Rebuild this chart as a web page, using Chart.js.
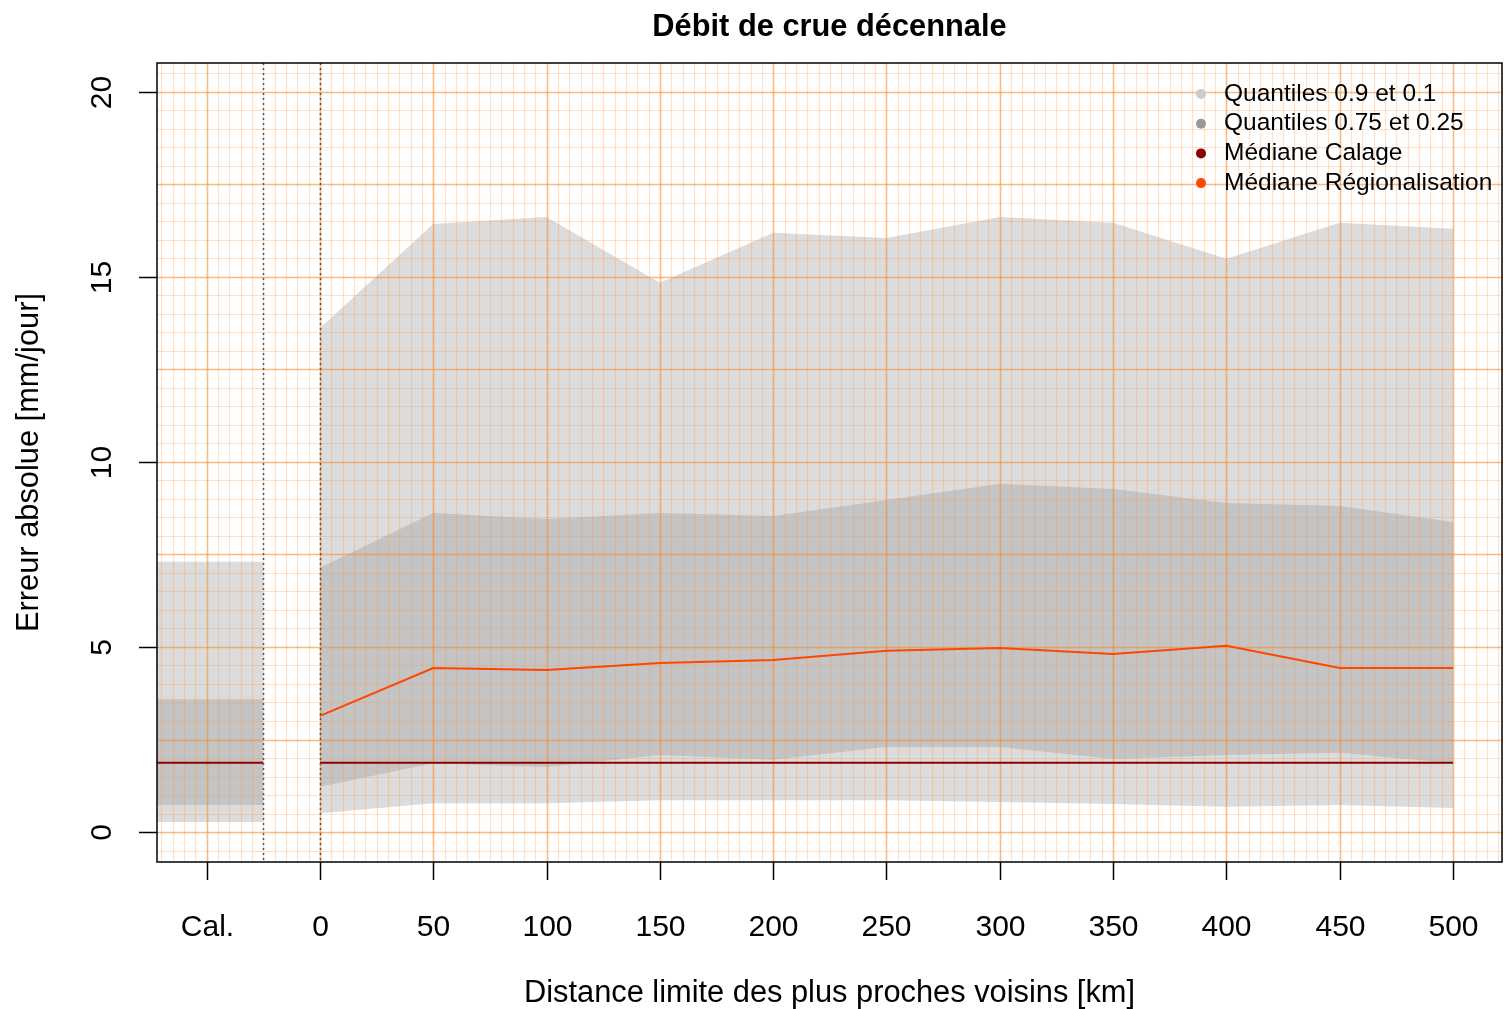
<!DOCTYPE html>
<html>
<head>
<meta charset="utf-8">
<title>Débit de crue décennale</title>
<script src="https://cdn.jsdelivr.net/npm/chart.js@4"></script>
<style>
	body { margin: 0; background: #fff; }
	#wrap { width: 1506px; height: 1009px; }
</style>
</head>
<body>
<div id="wrap"><canvas id="chart-crue" width="1506" height="1009"></canvas></div>
<script>
// Data
const distances = [0, 50, 100, 150, 200, 250, 300, 350, 400, 450, 500];
const regQ90 = [13.62, 16.43, 16.62, 14.84, 16.19, 16.05, 16.62, 16.46, 15.49, 16.46, 16.3];
const regQ75 = [7.14, 8.62, 8.46, 8.62, 8.54, 8.97, 9.41, 9.27, 8.89, 8.81, 8.38];
const regMedian = [3.14, 4.43, 4.38, 4.57, 4.65, 4.9, 4.97, 4.81, 5.03, 4.43, 4.43];
const regQ25 = [1.22, 1.86, 1.76, 2.08, 1.95, 2.3, 2.3, 1.97, 2.08, 2.14, 1.86];
const regQ10 = [0.51, 0.78, 0.78, 0.86, 0.86, 0.86, 0.81, 0.76, 0.68, 0.73, 0.65];

// calibration block (drawn left of the dotted line)
const calSpan = [-80, -25];
const calQ90 = 7.3;
const calQ75 = 3.59;
const calMedian = 1.87;
const calQ25 = 0.73;
const calQ10 = 0.27;

const xTicks = [-50, 0, 50, 100, 150, 200, 250, 300, 350, 400, 450, 500];
const xTickLabels = ['Cal.', '0', '50', '100', '150', '200', '250', '300', '350', '400', '450', '500'];
const yTicks = [0, 5, 10, 15, 20];
const legendLabels = ['Quantiles 0.9 et 0.1', 'Quantiles 0.75 et 0.25', 'Médiane Calage', 'Médiane Régionalisation'];
const legendColors = ['#cccccc', '#999999', '#8b0000', '#ff4500'];

const FONT = '"Liberation Sans", Arial, sans-serif';

const pts = (ys) => distances.map((d, i) => ({ x: d, y: ys[i] }));
const calPts = (v) => calSpan.map((d) => ({ x: d, y: v }));

function band(data, color, fill) {
	return {
		data: data,
		borderWidth: 0,
		pointRadius: 0,
		backgroundColor: color,
		fill: fill ? '+1' : false,
	};
}

// orange millimetre-paper grid, drawn over the bands but under the medians
const paperGrid = {
	id: 'paperGrid',
	beforeDatasetsDraw(chart) {
		const { ctx, chartArea: a, scales: { x, y } } = chart;
		ctx.save();
		ctx.beginPath();
		ctx.rect(a.left, a.top, a.right - a.left, a.bottom - a.top);
		ctx.clip();
		const vline = (v) => {
			const px = Math.round(x.getPixelForValue(v)) + 0.5;
			ctx.beginPath();
			ctx.moveTo(px, a.top);
			ctx.lineTo(px, a.bottom);
			ctx.stroke();
		};
		const hline = (v) => {
			const py = Math.round(y.getPixelForValue(v)) + 0.5;
			ctx.beginPath();
			ctx.moveTo(a.left, py);
			ctx.lineTo(a.right, py);
			ctx.stroke();
		};
		ctx.lineWidth = 1.2;
		ctx.strokeStyle = 'rgba(250, 145, 60, 0.27)';
		for (let v = -70; v <= 520; v += 5) if (v % 50 !== 0) vline(v);
		for (let k = -1; k <= 41; k++) if (k % 5 !== 0) hline(k * 0.5);
		ctx.lineWidth = 1.6;
		ctx.strokeStyle = 'rgba(247, 140, 45, 0.6)';
		for (let v = -50; v <= 500; v += 50) vline(v);
		for (let k = 0; k <= 8; k++) hline(k * 2.5);
		ctx.restore();
	},
};

// frame, separators, ticks, titles and legend
const frame = {
	id: 'frame',
	afterDatasetsDraw(chart) {
		const { ctx, chartArea: a, scales: { x, y } } = chart;
		ctx.save();

		// dotted separators
		ctx.strokeStyle = '#555';
		ctx.lineWidth = 1.5;
		ctx.setLineDash([2, 3]);
		[-25, 0].forEach((v) => {
			const px = Math.round(x.getPixelForValue(v)) + 0.5;
			ctx.beginPath();
			ctx.moveTo(px, a.top);
			ctx.lineTo(px, a.bottom);
			ctx.stroke();
		});
		ctx.setLineDash([]);

		// box
		ctx.strokeStyle = '#000';
		ctx.lineWidth = 1.5;
		ctx.strokeRect(a.left, a.top, a.right - a.left, a.bottom - a.top);

		ctx.fillStyle = '#000';
		ctx.font = '30px ' + FONT;
		ctx.textAlign = 'center';
		ctx.textBaseline = 'middle';

		// x ticks
		xTicks.forEach((v, i) => {
			const px = Math.round(x.getPixelForValue(v)) + 0.5;
			ctx.beginPath();
			ctx.moveTo(px, a.bottom);
			ctx.lineTo(px, a.bottom + 18);
			ctx.stroke();
			ctx.fillText(xTickLabels[i], px, a.bottom + 66);
		});

		// y ticks, labels turned like the axis title
		yTicks.forEach((v) => {
			const py = Math.round(y.getPixelForValue(v)) + 0.5;
			ctx.beginPath();
			ctx.moveTo(a.left, py);
			ctx.lineTo(a.left - 18, py);
			ctx.stroke();
			ctx.save();
			ctx.translate(a.left - 54, py);
			ctx.rotate(-Math.PI / 2);
			ctx.fillText(String(v), 0, 0);
			ctx.restore();
		});

		// titles
		const cx = (a.left + a.right) / 2;
		ctx.font = 'bold 30.8px ' + FONT;
		ctx.fillText('Débit de crue décennale', cx, 28);
		ctx.font = '30.8px ' + FONT;
		ctx.fillText('Distance limite des plus proches voisins [km]', cx, 994);
		ctx.save();
		ctx.translate(30, (a.top + a.bottom) / 2);
		ctx.rotate(-Math.PI / 2);
		ctx.fillText('Erreur absolue [mm/jour]', 0, 0);
		ctx.restore();

		// legend
		ctx.font = '24.5px ' + FONT;
		ctx.textAlign = 'left';
		legendLabels.forEach((label, i) => {
			const ly = 94 + i * 29.7;
			ctx.fillStyle = legendColors[i];
			ctx.beginPath();
			ctx.arc(1201, ly, 5, 0, Math.PI * 2);
			ctx.fill();
			ctx.fillStyle = '#000';
			ctx.fillText(label, 1224, ly);
		});

		ctx.restore();
	},
};

!(function () {
	const ctx = document.getElementById('chart-crue');

	new Chart(ctx, {
		type: 'line',
		data: {
			datasets: [
				// medians on top
				{
					data: pts(regMedian),
					borderColor: '#ff4500',
					borderWidth: 2,
					pointRadius: 0,
					fill: false,
				},
				{
					data: [...calPts(calMedian), { x: -12, y: null }, { x: 0, y: calMedian }, { x: 500, y: calMedian }],
					borderColor: '#8b0000',
					borderWidth: 2,
					pointRadius: 0,
					fill: false,
				},
				// 0.75 / 0.25 bands
				band(pts(regQ75), '#c4c4c4', true),
				band(pts(regQ25), '#c4c4c4', false),
				band(calPts(calQ75), '#c4c4c4', true),
				band(calPts(calQ25), '#c4c4c4', false),
				// 0.9 / 0.1 bands
				band(pts(regQ90), '#dcdcdc', true),
				band(pts(regQ10), '#dcdcdc', false),
				band(calPts(calQ90), '#dcdcdc', true),
				band(calPts(calQ10), '#dcdcdc', false),
			],
		},
		options: {
			responsive: false,
			animation: false,
			layout: {
				padding: { left: 157, top: 63, right: 4, bottom: 147 },
			},
			scales: {
				x: { type: 'linear', min: -71.9, max: 521.6, display: false },
				y: { type: 'linear', min: -0.81, max: 20.78, display: false },
			},
			plugins: {
				legend: { display: false },
				tooltip: { enabled: false },
				filler: { drawTime: 'beforeDatasetsDraw' },
			},
		},
		plugins: [paperGrid, frame],
	});
})();
</script>
</body>
</html>
